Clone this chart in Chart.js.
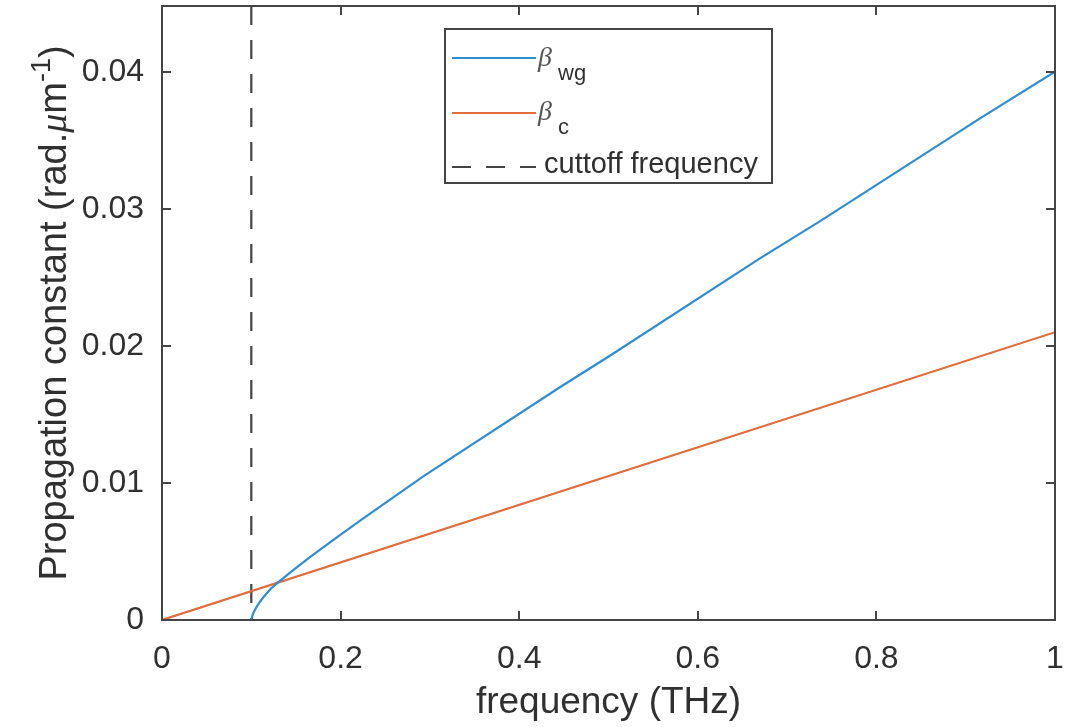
<!DOCTYPE html>
<html><head><meta charset="utf-8">
<script src="https://cdn.jsdelivr.net/npm/chart.js@4.4.0/dist/chart.umd.min.js"></script>
<style>html,body{margin:0;padding:0;background:#fff;}#wrap{width:1076px;height:727px;}</style>
</head><body><div id="wrap"><canvas id="c" width="1076" height="727"></canvas></div>
<script>
// ---- data ----
const freqWg = [0.1, 0.1015, 0.103, 0.106, 0.110, 0.114, 0.122, 0.132, 0.148, 0.166, 0.195, 0.225, 0.293, 0.446, 0.502, 0.670, 0.737, 0.916, 1.0];
const betaWg = [0, 0.0004, 0.0006, 0.00097, 0.00135, 0.0017, 0.0023, 0.00285, 0.0037, 0.0046, 0.0060, 0.0074, 0.0105, 0.0170, 0.0193, 0.0264, 0.0291, 0.0366, 0.0400];
const freqC = [0, 1];
const betaC = [0, 0.021];
const cutoffFreq = [0.1, 0.1];
const cutoffBeta = [0.0448, 0];
const xTicks = [0, 0.2, 0.4, 0.6, 0.8, 1];
const yTicks = [0, 0.01, 0.02, 0.03, 0.04];
const xTickLabels = ['0', '0.2', '0.4', '0.6', '0.8', '1'];
const yTickLabels = ['0', '0.01', '0.02', '0.03', '0.04'];
const seriesNames = ['βwg', 'βc', 'cuttoff frequency'];

const BLUE = '#2f8dd2';
const ORANGE = '#e16c3c';
const TXT = '#303030';
const SANS = '"Liberation Sans", Arial, sans-serif';
const SERIF = '"Liberation Serif", "DejaVu Serif", serif';

const toPts = (xs, ys) => xs.map((v, i) => ({x: v, y: ys[i]}));

const frame = {
  id: 'frame',
  afterDatasetsDraw(chart) {
    const {ctx, chartArea: a, scales: {x, y}} = chart;
    ctx.save();
    ctx.strokeStyle = '#444';
    ctx.lineWidth = 2;
    ctx.strokeRect(a.left, a.top, a.right - a.left, a.bottom - a.top);
    const tl = 9;
    ctx.beginPath();
    xTicks.forEach(v => {
      const px = Math.round(x.getPixelForValue(v));
      ctx.moveTo(px, a.bottom); ctx.lineTo(px, a.bottom - tl);
      ctx.moveTo(px, a.top); ctx.lineTo(px, a.top + tl);
    });
    yTicks.forEach(v => {
      const py = Math.round(y.getPixelForValue(v));
      ctx.moveTo(a.left, py); ctx.lineTo(a.left + tl, py);
      ctx.moveTo(a.right, py); ctx.lineTo(a.right - tl, py);
    });
    ctx.stroke();
    ctx.restore();
  },
  afterDraw(chart) {
    const {ctx, chartArea: a} = chart;
    // y-axis title with italic mu and superscript
    ctx.save();
    const cy = (a.top + a.bottom) / 2;
    ctx.translate(66, cy);
    ctx.rotate(-Math.PI / 2);
    ctx.fillStyle = TXT;
    ctx.textBaseline = 'alphabetic';
    ctx.textAlign = 'left';
    const segs = [
      {t: 'Propagation constant (rad.', f: '38px ' + SANS, dy: 0},
      {t: 'μ', f: 'italic 38px ' + SERIF, dy: 0},
      {t: 'm', f: '38px ' + SANS, dy: 0},
      {t: '-1', f: '27px ' + SANS, dy: -16},
      {t: ')', f: '38px ' + SANS, dy: 0}
    ];
    let total = 0;
    segs.forEach(s => { ctx.font = s.f; s.w = ctx.measureText(s.t).width; total += s.w; });
    let xx = -total / 2;
    segs.forEach(s => { ctx.font = s.f; ctx.fillText(s.t, xx, s.dy); xx += s.w; });
    ctx.restore();

    // legend
    ctx.save();
    const L = 445, T = 29, R = 772, B = 183;
    ctx.fillStyle = '#fff';
    ctx.fillRect(L, T, R - L, B - T);
    ctx.strokeStyle = '#444';
    ctx.lineWidth = 2;
    ctx.strokeRect(L, T, R - L, B - T);
    const ds = chart.data.datasets;
    const rows = [58, 113, 167];
    rows.forEach((ry, i) => {
      ctx.beginPath();
      ctx.strokeStyle = ds[i].borderColor;
      ctx.lineWidth = ds[i].borderWidth;
      ctx.setLineDash(ds[i].borderDash || []);
      ctx.moveTo(452, ry); ctx.lineTo(536, ry);
      ctx.stroke();
    });
    ctx.setLineDash([]);
    ctx.textAlign = 'left';
    ctx.textBaseline = 'alphabetic';
    ctx.font = 'italic 28px ' + SERIF;
    ctx.fillStyle = '#555';
    ctx.fillText('β', 538, 66);
    ctx.fillText('β', 538, 120);
    ctx.fillStyle = TXT;
    ctx.font = '22px ' + SANS;
    ctx.fillText('wg', 558, 80);
    ctx.fillText('c', 558, 134);
    ctx.font = '29px ' + SANS;
    ctx.fillText(seriesNames[2], 544, 173);
    ctx.restore();
  }
};

new Chart(document.getElementById('c'), {
  type: 'scatter',
  data: {
    datasets: [
      {label: seriesNames[0], data: toPts(freqWg, betaWg), showLine: true, borderColor: BLUE, borderWidth: 2.2, pointRadius: 0, tension: 0},
      {label: seriesNames[1], data: toPts(freqC, betaC), showLine: true, borderColor: ORANGE, borderWidth: 2.2, pointRadius: 0},
      {label: seriesNames[2], data: toPts(cutoffFreq, cutoffBeta), showLine: true, borderColor: '#444', borderWidth: 2.2, borderDash: [19, 15], pointRadius: 0}
    ]
  },
  options: {
    responsive: false,
    animation: false,
    devicePixelRatio: 1,
    layout: {padding: {left: 0, right: 21, top: 6, bottom: 0}},
    plugins: {legend: {display: false}, tooltip: {enabled: false}},
    scales: {
      x: {
        type: 'linear', min: 0, max: 1,
        afterFit(s) { s.height = 107; s.paddingLeft = 0; s.paddingRight = 0; },
        afterBuildTicks(s) { s.ticks = xTicks.map(v => ({value: v})); },
        grid: {display: false, drawTicks: false},
        border: {display: false},
        ticks: {
          autoSkip: false, maxRotation: 0, padding: 20,
          font: {family: SANS, size: 32}, color: TXT,
          callback: (v) => xTickLabels[xTicks.indexOf(v)]
        },
        title: {display: true, text: 'frequency (THz)', font: {family: SANS, size: 37}, color: TXT, padding: {top: 0, bottom: 2}}
      },
      y: {
        type: 'linear', min: 0, max: 0.0448,
        afterFit(s) { s.width = 162; s.paddingTop = 0; s.paddingBottom = 0; },
        afterBuildTicks(s) { s.ticks = yTicks.map(v => ({value: v})); },
        grid: {display: false, drawTicks: false},
        border: {display: false},
        ticks: {
          autoSkip: false, padding: 18,
          font: {family: SANS, size: 32}, color: TXT,
          callback: (v) => yTickLabels[yTicks.indexOf(v)]
        }
      }
    }
  },
  plugins: [frame]
});
</script>
</body></html>
